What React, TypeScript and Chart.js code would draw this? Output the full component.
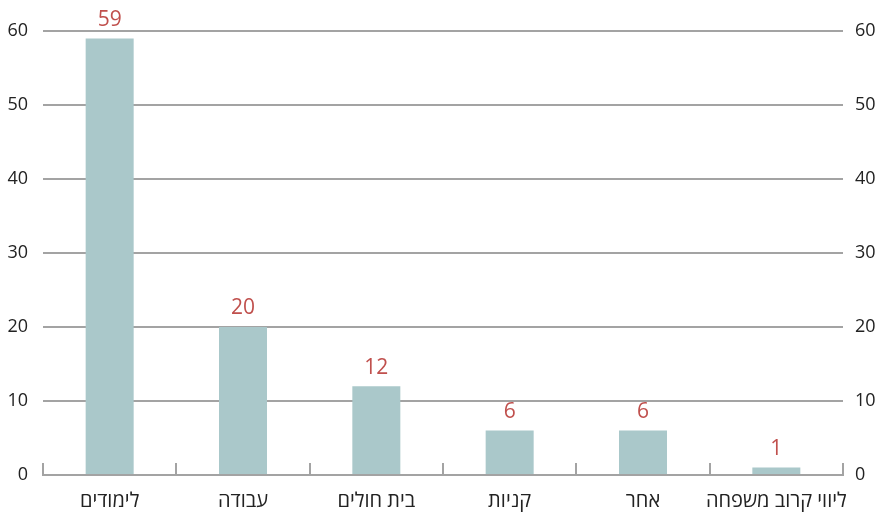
import React, { useEffect, useRef } from "react";
import { Chart, registerables } from "chart.js";

Chart.register(...registerables);

const categories = ["לימודים", "עבודה", "בית חולים", "קניות", "אחר", "ליווי קרוב משפחה"];
const values = [59, 20, 12, 6, 6, 1];
const yTicks = [0, 10, 20, 30, 40, 50, 60];

const FONT = "'Open Sans', 'DejaVu Sans', sans-serif";
const GRID = "#a3a3a3";

const valueLabels = {
  id: "valueLabels",
  afterDatasetsDraw(chart: any) {
    const ctx = chart.ctx;
    const meta = chart.getDatasetMeta(0);
    ctx.save();
    ctx.font = `21px ${FONT}`;
    ctx.fillStyle = "#c0504d";
    ctx.textAlign = "center";
    ctx.textBaseline = "bottom";
    meta.data.forEach((bar: any, i: number) => {
      ctx.fillText(String(values[i]), bar.x, bar.y - 8);
    });
    ctx.restore();
  },
};

const upTicks = {
  id: "upTicks",
  afterDraw(chart: any) {
    const ctx = chart.ctx;
    const area = chart.chartArea;
    const n = categories.length;
    const w = (area.right - area.left) / n;
    ctx.save();
    ctx.strokeStyle = GRID;
    ctx.lineWidth = 2;
    for (let i = 0; i <= n; i++) {
      const x = Math.round(area.left + i * w);
      ctx.beginPath();
      ctx.moveTo(x, area.bottom);
      ctx.lineTo(x, area.bottom - 12);
      ctx.stroke();
    }
    ctx.restore();
  },
};

export default function App() {
  const ref = useRef<HTMLCanvasElement>(null);
  useEffect(() => {
    const chart = new Chart(ref.current!, {
      type: "bar",
      data: {
        labels: categories,
        datasets: [
          {
            data: values,
            backgroundColor: "#aac8ca",
            barPercentage: 0.72,
            categoryPercentage: 0.5,
          },
        ],
      },
      options: {
        animation: false,
        responsive: false,
        layout: { padding: { top: 31, left: 0, right: 0, bottom: 0 } },
        plugins: { legend: { display: false }, tooltip: { enabled: false } },
        scales: {
          x: {
            grid: { display: false },
            border: { display: true, color: GRID, width: 2 },
            ticks: {
              color: "#222",
              font: { family: FONT, size: 20 },
              padding: 6,
              maxRotation: 0,
              autoSkip: false,
            },
            afterFit(scale: any) {
              scale.height = 39;
            },
          },
          y: {
            position: "left",
            min: 0,
            max: 60,
            afterBuildTicks(scale: any) {
              scale.ticks = yTicks.map((v) => ({ value: v }));
            },
            grid: { color: GRID, lineWidth: 2, drawTicks: false },
            border: { display: false },
            ticks: {
              color: "#222",
              font: { family: FONT, size: 18 },
              padding: 15,
            },
            afterFit(scale: any) {
              scale.width = 43;
            },
          },
          y2: {
            position: "right",
            min: 0,
            max: 60,
            afterBuildTicks(scale: any) {
              scale.ticks = yTicks.map((v) => ({ value: v }));
            },
            grid: { display: false, drawTicks: false },
            border: { display: false },
            ticks: {
              color: "#222",
              font: { family: FONT, size: 18 },
              padding: 12,
            },
            afterFit(scale: any) {
              scale.width = 33;
            },
          },
        },
      },
      plugins: [valueLabels, upTicks],
    });
    return () => chart.destroy();
  }, []);
  return (
    <div style={{ position: "fixed", left: 0, top: 0, width: 876, height: 514, background: "#fff" }}>
      <canvas ref={ref} width={876} height={514} />
    </div>
  );
}
